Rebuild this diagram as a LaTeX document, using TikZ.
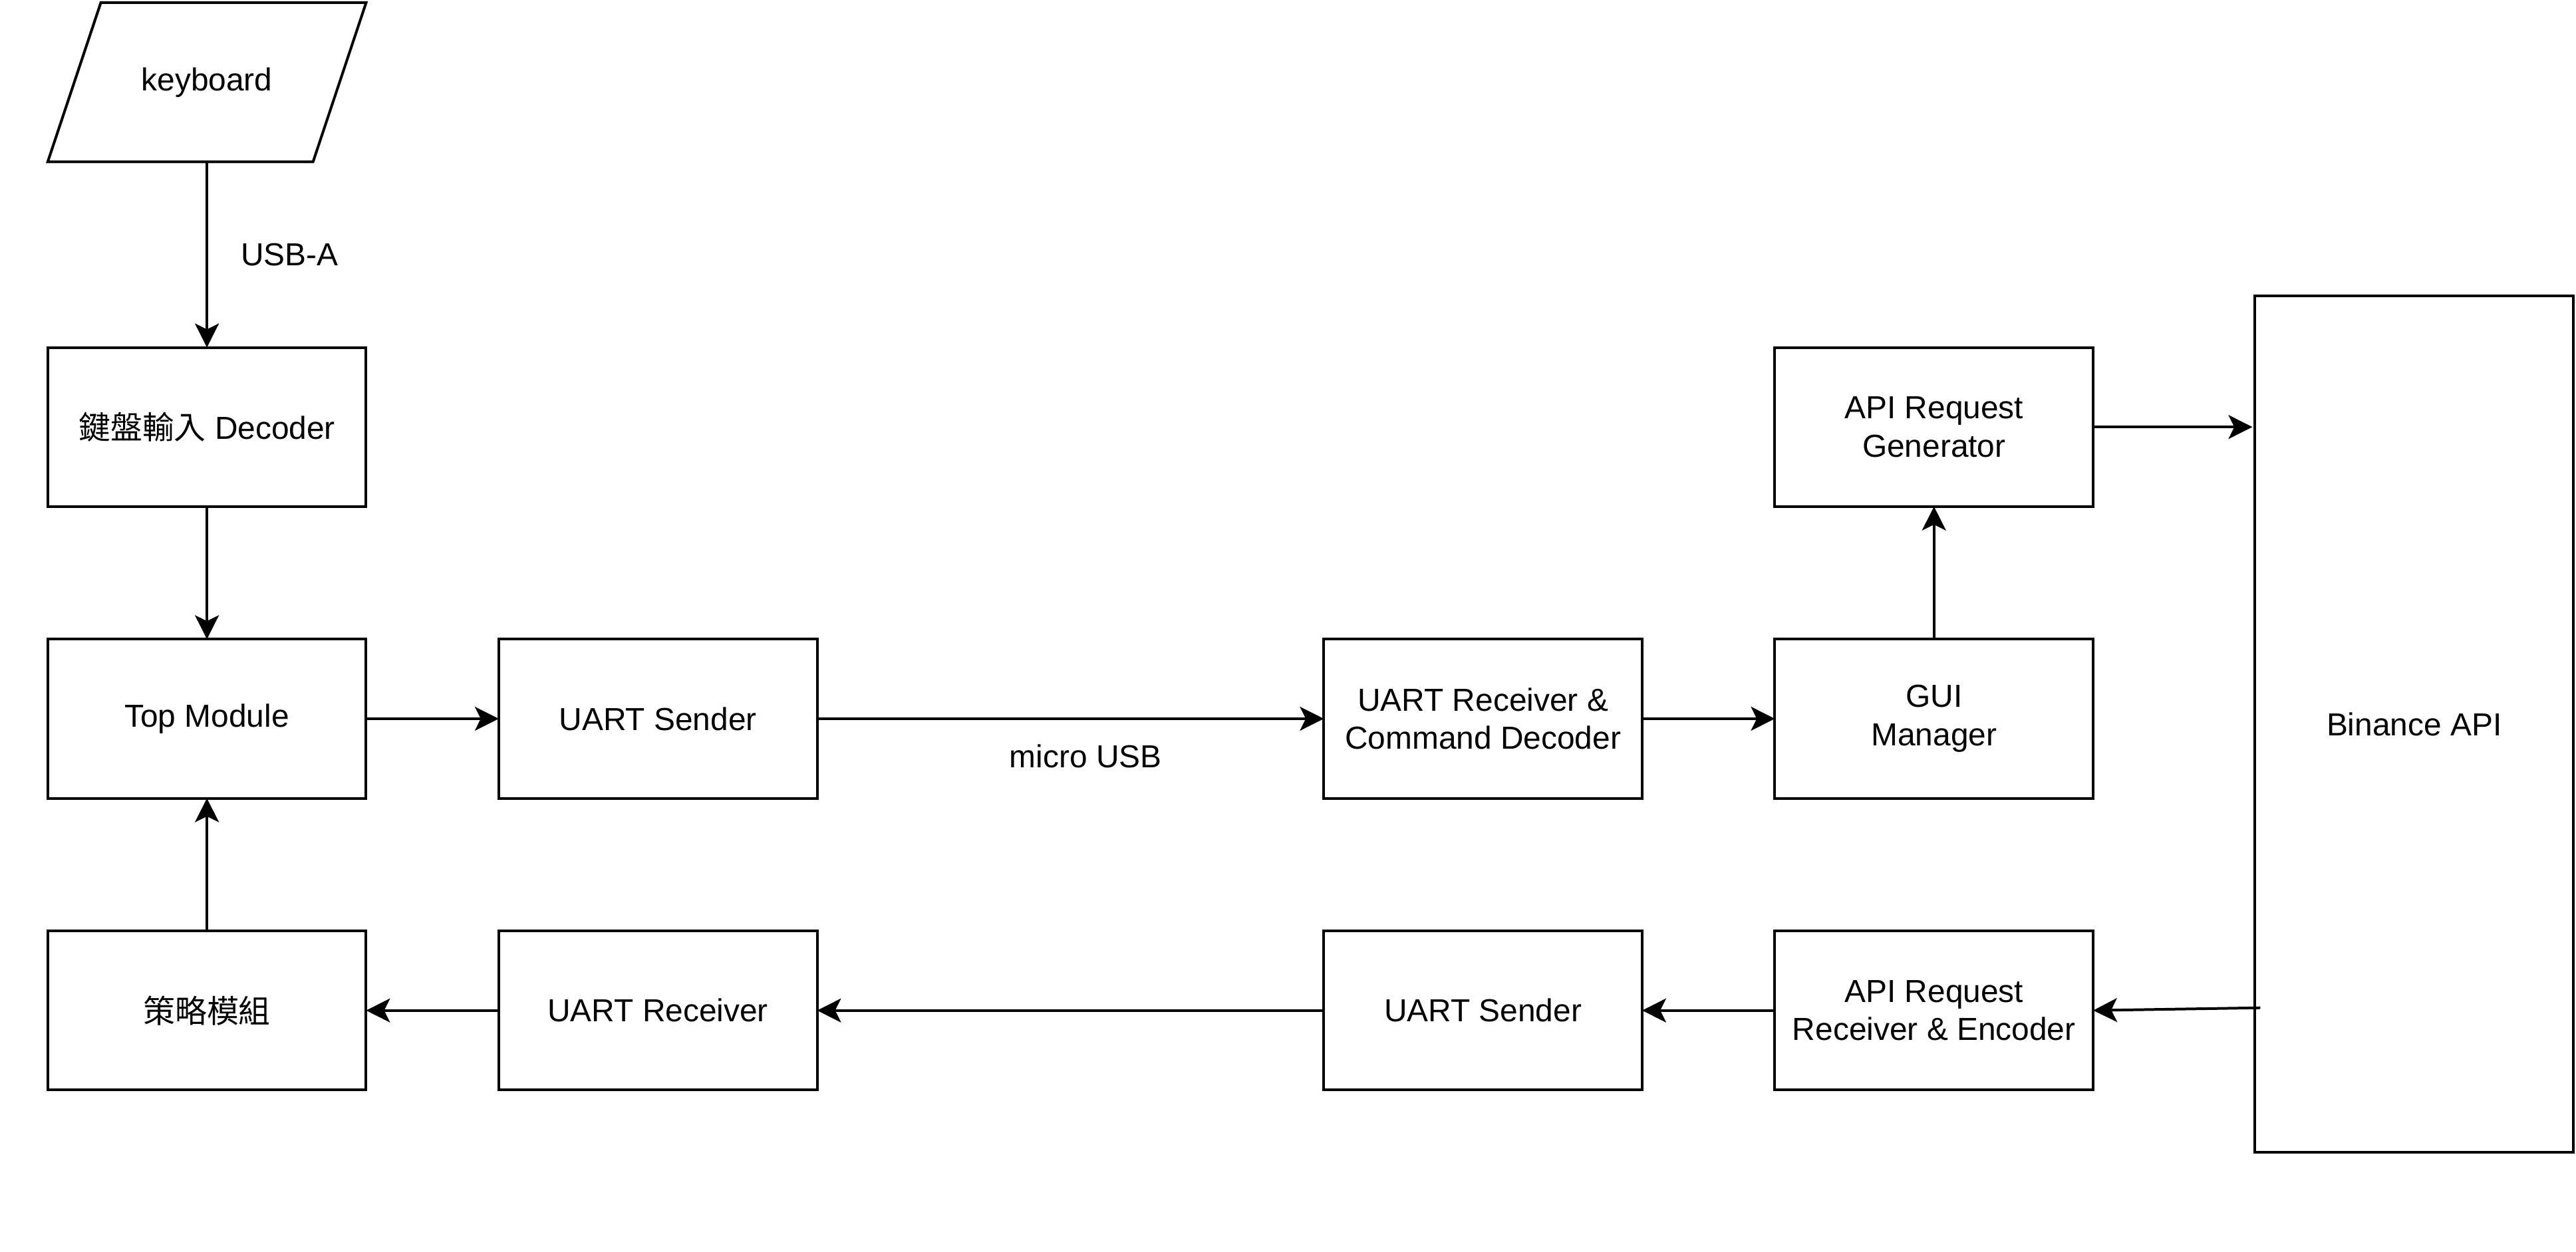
\documentclass[tikz,border=0pt]{standalone}
\usepackage{fontspec}
\setmainfont{Liberation Sans}
\newfontfamily\cjk{Noto Sans CJK TC}
\usetikzlibrary{arrows.meta,positioning}
\newcommand{\blkw}{120pt}
\newcommand{\blkh}{60pt}
\tikzset{
    blksty/.style={draw,rectangle,line width=1pt,outer sep=0pt,minimum width=\blkw,minimum height=\blkh,inner sep=2pt,align=center,font=\fontsize{12pt}{14.5pt}\selectfont},
    kbsty/.style={rectangle,outer sep=0pt,minimum width=100pt,minimum height=\blkh,font=\fontsize{12pt}{14.5pt}\selectfont},
    binsty/.style={blksty,minimum height=323pt},
    lnksty/.style={->,line width=1pt},
    lblsty/.style={font=\fontsize{12pt}{14.5pt}\selectfont},
}

\begin{document}
\begin{tikzpicture}[>={Stealth[length=9pt,width=9pt,inset=2.2pt]}, node distance=50pt]
\useasboundingbox (-78pt,271pt) rectangle (893pt,-201pt);

\node[blksty] (top) at (0,0) {Top Module};
\node[blksty,above=of top] (dec) {{\cjk 鍵盤輸入} Decoder};
\node[kbsty,above=70pt of dec] (kb) {keyboard};
\node[blksty,below=of top] (strat) {{\cjk 策略模組}};
\node[blksty,right=of top] (usnd) {UART Sender};
\node[blksty,right=of strat] (urcv) {UART Receiver};
\node[blksty,right=191pt of usnd] (urcd) {UART Receiver \&\\Command Decoder};
\node[blksty,right=191pt of urcv] (usnd2) {UART Sender};
\node[blksty,right=of urcd] (gui) {GUI\\Manager};
\node[blksty,above=of gui] (apigen) {API Request\\Generator};
\node[blksty,right=of usnd2] (apircv) {API Request\\Receiver \& Encoder};
\node[binsty,right=61pt of gui,yshift=-2pt] (bin) {Binance API};

% keyboard outline
\draw[line width=1pt] ([xshift=10pt]kb.north west) -- ([xshift=10pt]kb.north east) -- ([xshift=-10pt]kb.south east) -- ([xshift=-10pt]kb.south west) -- cycle;

\draw[lnksty] (kb) -- node[lblsty,right=9pt] {USB-A} (dec);
\draw[lnksty] (dec) -- (top);
\draw[lnksty] (strat) -- (top);
\draw[lnksty] (top) -- (usnd);
\draw[lnksty] (usnd) -- node[lblsty,below=6pt,pos=0.53] {micro USB} (urcd);
\draw[lnksty] (urcd) -- (gui);
\draw[lnksty] (gui) -- (apigen);
\draw[lnksty] (apigen.east) -- ([xshift=-1pt]apigen.east -| bin.west);
\draw[lnksty] ([xshift=2pt,yshift=1pt]apircv.east -| bin.west) -- (apircv.east);
\draw[lnksty] (apircv) -- (usnd2);
\draw[lnksty] (usnd2) -- (urcv);
\draw[lnksty] (urcv) -- (strat);

\end{tikzpicture}
\end{document}
